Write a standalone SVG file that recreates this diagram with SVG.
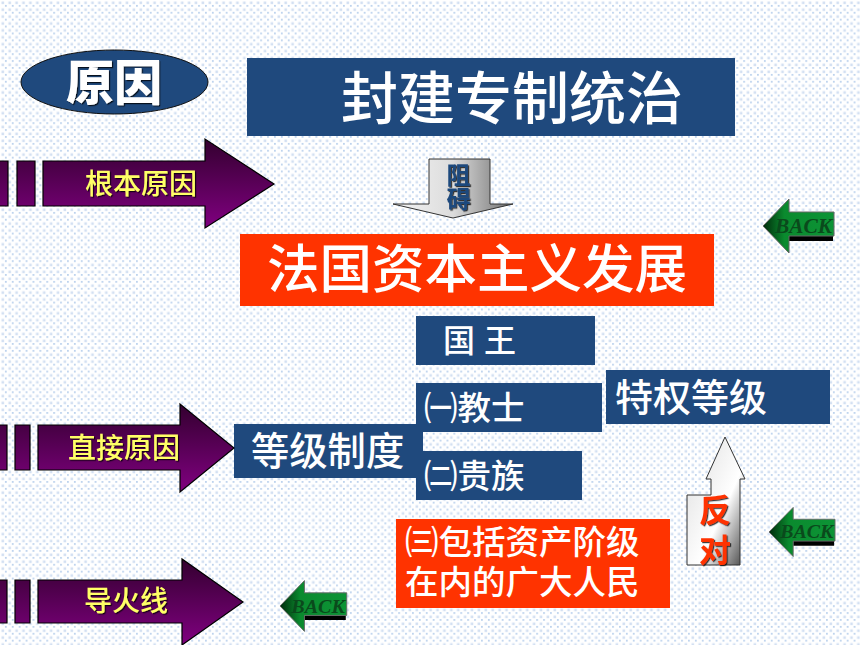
<svg xmlns="http://www.w3.org/2000/svg" width="860" height="645" viewBox="0 0 860 645">
<style>
text{font-family:"Liberation Sans","Noto Sans CJK SC",sans-serif}
.w{fill:#fff;font-weight:500}
.b{fill:#1f497d}
.r{fill:#ff3300}
.p{stroke:#000;stroke-width:1.2;fill:url(#pg)}
.y{fill:#ffff66;font-size:28px;font-weight:500;text-anchor:middle;filter:url(#sh)}
.v{writing-mode:vertical-rl;text-anchor:start;font-weight:700}
.back{font-family:"Liberation Serif",serif;font-style:italic;font-weight:700;font-size:21px;fill:#0a4a1c}
</style>
<defs>
<pattern id="dots" width="6.9" height="6.9" patternUnits="userSpaceOnUse">
<rect x="1.5" y="1.5" width="2.6" height="2.6" fill="#d3e0f2"/>
<rect x="5.2" y="5.2" width="1.3" height="1.3" fill="#7fa8dc"/>
</pattern>
<linearGradient id="pg" x1="0" y1="0" x2="0" y2="1"><stop offset="0" stop-color="#33002f"/><stop offset="1" stop-color="#800080"/></linearGradient>
<linearGradient id="gg" x1="0" y1="0" x2="1" y2="0"><stop offset="0" stop-color="#f4f4f4"/><stop offset=".5" stop-color="#dcdcdc"/><stop offset="1" stop-color="#6e6e6e"/></linearGradient>
<linearGradient id="gv" x1="0" y1="0" x2="1" y2="1"><stop offset="0" stop-color="#dcdcdc"/><stop offset=".6" stop-color="#fff"/><stop offset="1" stop-color="#444"/></linearGradient>
<linearGradient id="gb" x1="0" y1="0" x2="1" y2="0"><stop offset="0" stop-color="#012b0c"/><stop offset=".3" stop-color="#0a8a2e"/><stop offset="1" stop-color="#0d9436"/></linearGradient>
<filter id="sh" x="-10%" y="-10%" width="130%" height="130%"><feDropShadow dx="1.2" dy="1.2" stdDeviation=".4" flood-color="#000" flood-opacity=".75"/></filter>
<g id="backbtn">
<path d="M26 10H70V15H26Z" fill="#000"/>
<path d="M0 0L26-27V-14H71V10H26V27Z" fill="url(#gb)" stroke="#666" stroke-width="1"/>
<text class="back" x="12" y="7" textLength="57" lengthAdjust="spacingAndGlyphs">BACK</text>
</g>
</defs>
<rect width="860" height="645" fill="#fff"/>
<rect width="860" height="645" fill="url(#dots)"/>
<g id="connectors">
<g id="arrow-zuai"><path d="M429 159H490V204H513L453 218L393 204H429Z" fill="url(#gg)" stroke="#333" stroke-width="1"/>
<text class="v" x="456.500" y="163" font-size="24" fill="#1f497d" filter="url(#sh)">阻碍</text></g>
<g id="arrow-fandui"><path d="M687 495H711V479H706L725 437L745 479H740V565H687Z" fill="url(#gv)" stroke="#333" stroke-width="1"/>
<text class="v" x="712" y="494" font-size="32" letter-spacing="8" fill="#ff3300" filter="url(#sh)">反对</text></g>
</g>
<g id="n-yuanyin"><ellipse cx="114.500" cy="82" rx="93.500" ry="32" class="b" stroke="#111" stroke-width="1"/>
<text x="114" y="100" text-anchor="middle" font-size="48" font-weight="900" fill="#fff" filter="url(#sh)">原因</text></g>
<g id="n-fengjian"><rect x="247" y="58" width="488" height="78" class="b"/>
<text x="512" y="119" text-anchor="middle" font-size="57" class="w">封建专制统治</text></g>
<g id="n-root"><path class="p" d="M-5 161H8V206H-5ZM17 161H35V206H17ZM43 161H205V139L274 184L205 228V206H43Z"/>
<text class="y" x="141" y="194">根本原因</text></g>
<g id="n-fazi"><rect x="240" y="234" width="474" height="72" class="r"/>
<text x="477" y="288" text-anchor="middle" font-size="52.500" class="w">法国资本主义发展</text></g>
<g id="n-guowang"><rect x="416" y="316" width="179" height="49" class="b"/>
<text x="443" y="352" font-size="32" class="w">国 王</text></g>
<g id="n-jiaoshi"><rect x="416" y="383" width="186" height="49" class="b"/>
<text x="424" y="420" font-size="33.500" class="w">㈠教士</text></g>
<g id="n-tequan"><rect x="606" y="370" width="224" height="54" class="b"/>
<text x="615" y="411" font-size="38" class="w">特权等级</text></g>
<g id="n-dengji"><rect x="234" y="424" width="189" height="54" class="b"/>
<text x="251" y="465" font-size="38.300" class="w">等级制度</text></g>
<g id="n-guizu"><rect x="416" y="451" width="166" height="49" class="b"/>
<text x="424" y="488" font-size="33.500" class="w">㈡贵族</text></g>
<g id="n-people"><rect x="396" y="519" width="274" height="89" class="r"/>
<text x="405" y="554" font-size="33.500" class="w">㈢包括资产阶级</text>
<text x="405" y="594" font-size="33.500" class="w">在内的广大人民</text></g>
<g id="n-direct"><path class="p" d="M-5 425H7V470H-5ZM15 425H30V470H15ZM38 425H180V404L234 448L180 492V470H38Z"/>
<text class="y" x="124" y="458">直接原因</text></g>
<g id="n-fuse"><path class="p" d="M-5 580H7V623H-5ZM15 580H30V623H15ZM38 580H182V559L243 602L182 645V623H38Z"/>
<text class="y" x="126" y="611">导火线</text></g>
<g id="n-back1"><use href="#backbtn" transform="translate(763 226)"/></g>
<g id="n-back2"><use href="#backbtn" transform="translate(769 532) scale(.93 .91)"/></g>
<g id="n-back3"><use href="#backbtn" transform="translate(280 606) scale(.94 .94)"/></g>
</svg>
